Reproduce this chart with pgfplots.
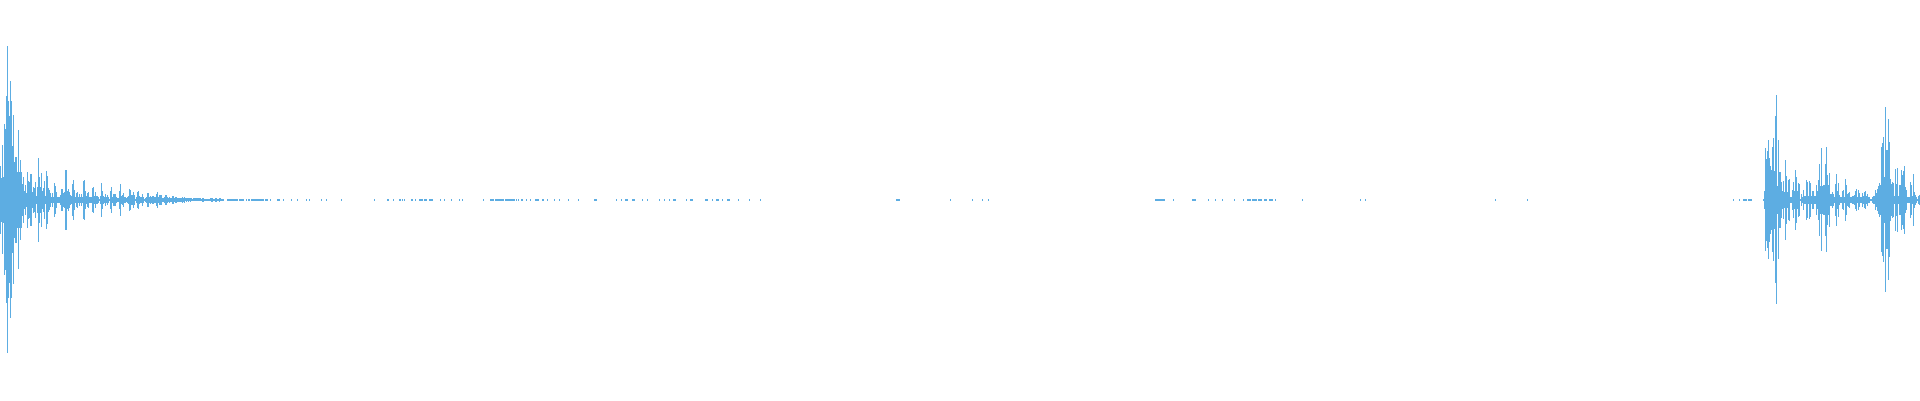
\documentclass[border=0pt]{standalone}
\usepackage{pgfplots}
\usepackage{pgfplotstable}
\pgfplotsset{compat=1.18}
\definecolor{wave}{HTML}{5DADE2}
% half height of the waveform in pixels, one row per pixel column
\pgfplotstableread[row sep=\\]{
x a\\
0 34\\1 22\\2 54\\3 23\\4 75\\5 70\\6 103\\7 153\\8 98\\9 83\\10 118\\11 98\\12 53\\13 84\\14 38\\15 43\\16 43\\17 28\\18 69\\19 28\\
20 40\\21 28\\22 16\\23 23\\24 9\\25 15\\26 7\\27 28\\28 19\\29 18\\30 26\\31 26\\32 8\\33 13\\34 12\\35 18\\36 4\\37 13\\38 42\\39 23\\
40 13\\41 27\\42 9\\43 12\\44 19\\45 4\\46 29\\47 24\\48 12\\49 10\\50 7\\51 3\\52 7\\53 3\\54 17\\55 14\\56 8\\57 3\\58 3\\59 3\\
60 5\\61 11\\62 11\\63 7\\64 8\\65 30\\66 30\\67 9\\68 11\\69 8\\70 5\\71 4\\72 16\\73 20\\74 10\\75 3\\76 7\\77 8\\78 3\\79 6\\
80 3\\81 6\\82 3\\83 19\\84 20\\85 9\\86 4\\87 7\\88 8\\89 3\\90 3\\91 3\\92 12\\93 13\\94 4\\95 8\\96 4\\97 4\\98 3\\99 1\\
100 4\\101 17\\102 9\\103 4\\104 3\\105 6\\106 3\\107 5\\108 3\\109 1\\110 9\\111 13\\112 3\\113 6\\114 6\\115 6\\116 3\\117 2\\118 2\\119 9\\
120 16\\121 4\\122 5\\123 7\\124 3\\125 3\\126 2\\127 3\\128 4\\129 11\\130 10\\131 5\\132 5\\133 8\\134 5\\135 1\\136 3\\137 8\\138 9\\139 4\\
140 3\\141 3\\142 6\\143 3\\144 1\\145 2\\146 3\\147 7\\148 7\\149 3\\150 4\\151 3\\152 4\\153 4\\154 3\\155 3\\156 6\\157 8\\158 3\\159 5\\
160 5\\161 5\\162 2\\163 2\\164 3\\165 5\\166 5\\167 3\\168 2\\169 3\\170 2\\171 2\\172 4\\173 4\\174 2\\175 3\\176 3\\177 2\\178 2\\179 2\\
180 2\\181 2\\182 3\\183 2\\184 3\\185 1.5\\186 2\\187 1.5\\188 2\\189 1.5\\190 2\\191 1.5\\192 1\\193 1.5\\194 1.5\\195 1.5\\196 1.5\\197 1.5\\198 1.5\\199 1.5\\
200 1.5\\201 1\\202 2\\203 2\\204 1\\205 1\\206 1\\207 1\\208 1\\209 1\\210 1.5\\211 2\\212 2\\213 1\\214 1\\215 2\\216 2\\217 1\\218 1\\219 2\\
220 1.5\\221 1\\222 1\\223 1\\227 1\\228 1\\229 1\\230 1\\231 1\\232 1\\233 .5\\234 .5\\235 1\\236 1\\237 .5\\239 .5\\240 .5\\241 .5\\242 1\\243 1\\
246 .5\\248 .5\\249 .5\\251 .5\\252 .5\\253 .5\\254 .5\\255 .5\\256 .5\\257 .5\\258 .5\\259 .5\\260 .5\\261 .5\\262 .5\\263 .5\\265 .5\\266 .5\\267 .5\\270 .5\\
277 .5\\278 .5\\279 .5\\283 .5\\291 .5\\297 .5\\306 .5\\309 .5\\321 .5\\326 .5\\341 .5\\374 .5\\387 .5\\388 .5\\393 .5\\399 .5\\400 .5\\402 .5\\404 .5\\
411 .5\\412 .5\\415 .5\\419 .5\\420 .5\\421 .5\\422 .5\\424 .5\\425 .5\\426 .5\\429 .5\\430 .5\\431 .5\\432 .5\\440 .5\\444 .5\\451 .5\\459 .5\\462 .5\\483 .5\\
490 .5\\491 .5\\492 .5\\493 .5\\495 .5\\496 .5\\497 1\\498 .5\\499 .5\\500 1\\501 .5\\502 .5\\503 .5\\505 .5\\506 .5\\507 .5\\508 .5\\509 .5\\510 .5\\511 .5\\
512 .5\\513 .5\\514 .5\\516 .5\\518 .5\\521 .5\\522 .5\\526 .5\\530 .5\\535 .5\\536 .5\\537 .5\\538 .5\\542 .5\\543 .5\\547 .5\\554 .5\\559 .5\\568 .5\\578 .5\\
594 .5\\595 .5\\596 .5\\616 .5\\621 .5\\625 .5\\626 .5\\627 .5\\632 .5\\633 .5\\634 .5\\642 .5\\647 .5\\659 .5\\664 .5\\669 .5\\673 .5\\674 .5\\675 .5\\
686 .5\\690 .5\\691 .5\\692 .5\\705 .5\\706 .5\\707 .5\\712 .5\\716 .5\\717 .5\\718 .5\\722 .5\\727 .5\\728 .5\\729 .5\\738 .5\\749 .5\\760 .5\\
896 .5\\897 .5\\898 .5\\899 .5\\950 .5\\972 .5\\982 .5\\988 .5\\
1155 .5\\1156 .5\\1157 .5\\1158 .5\\1159 .5\\1160 .5\\1161 .5\\1162 .5\\1163 .5\\1164 .5\\1173 .5\\1192 .5\\1193 .5\\1194 .5\\1195 .5\\1208 .5\\1215 .5\\1222 .5\\1234 .5\\1243 .5\\
1247 .5\\1248 .5\\1249 .5\\1250 .5\\1252 .5\\1253 .5\\1254 .5\\1255 .5\\1256 .5\\1258 .5\\1259 .5\\1260 .5\\1261 .5\\1264 .5\\1265 .5\\1266 .5\\1269 .5\\1270 .5\\1271 .5\\1272 .5\\
1275 .5\\1302 .5\\1360 .5\\1365 .5\\1495 .5\\1527 .5\\1733 .5\\1739 .5\\1743 .5\\1744 .5\\1745 .5\\1746 .5\\1748 .5\\1749 .5\\1750 .5\\1751 .5\\
1763 1\\1764 9\\1765 51\\1766 41\\1767 48\\1768 59\\1769 42\\1770 34\\1771 30\\1772 52\\1773 61\\1774 29\\1775 83\\1776 104\\1777 14\\1778 59\\1779 28\\1780 28\\1781 18\\1782 9\\
1783 19\\1784 8\\1785 40\\1786 24\\1787 8\\1788 20\\1789 21\\1790 3\\1791 3\\1792 10\\1793 18\\1794 9\\1795 30\\1796 23\\1797 9\\1798 17\\1799 16\\1800 1\\1801 6\\1802 3\\
1803 10\\1804 4\\1805 4\\1806 20\\1807 18\\1808 4\\1809 19\\1810 17\\1811 4\\1812 9\\1813 9\\1814 4\\1815 4\\1816 15\\1817 9\\1818 20\\1819 36\\1820 14\\1821 51\\1822 14\\
1823 15\\1824 15\\1825 36\\1826 52\\1827 25\\1828 15\\1829 27\\1830 6\\1831 6\\1832 8\\1833 6\\1834 3\\1835 16\\1836 26\\1837 9\\1838 17\\1839 5\\1840 3\\1841 3\\1842 9\\
1843 10\\1844 3\\1845 21\\1846 15\\1847 6\\1848 7\\1849 8\\1850 3\\1851 3\\1852 4\\1853 4\\1854 5\\1855 9\\1856 11\\1857 3\\1858 10\\1859 7\\1860 3\\1861 3\\1862 7\\
1863 4\\1864 8\\1865 9\\1866 4\\1867 6\\1868 3\\1869 3\\1870 1\\1871 1\\1872 3\\1873 4\\1874 4\\1875 10\\1876 7\\1877 11\\1878 14\\1879 17\\1880 15\\1881 52\\1882 56\\
1883 62\\1884 23\\1885 92\\1886 49\\1887 49\\1888 80\\1889 57\\1890 21\\1891 16\\1892 18\\1893 17\\1894 4\\1895 31\\1896 16\\1897 32\\1898 4\\1899 15\\1900 15\\1901 30\\1902 25\\
1903 29\\1904 34\\1905 13\\1906 10\\1907 3\\1908 3\\1909 3\\1910 18\\1911 15\\1912 4\\1913 26\\1914 8\\1915 5\\1916 3\\1917 1\\1918 4\\1919 5\\
}\wavetable
\begin{document}
\begin{tikzpicture}
\useasboundingbox (0,0) rectangle (1920pt,400pt);
\begin{axis}[
    at={(0,0)},
    anchor=south west,
    scale only axis,
    width=1920pt,
    height=400pt,
    xmin=-0.5, xmax=1919.5,
    ymin=-200.5, ymax=199.5,
    hide axis,
    no markers,
]
\addplot[ycomb, color=wave, line width=1.2pt] table[x=x, y=a] {\wavetable};
\addplot[ycomb, color=wave, line width=1.2pt] table[x=x, y expr=-\thisrow{a}] {\wavetable};
\end{axis}
\end{tikzpicture}
\end{document}
